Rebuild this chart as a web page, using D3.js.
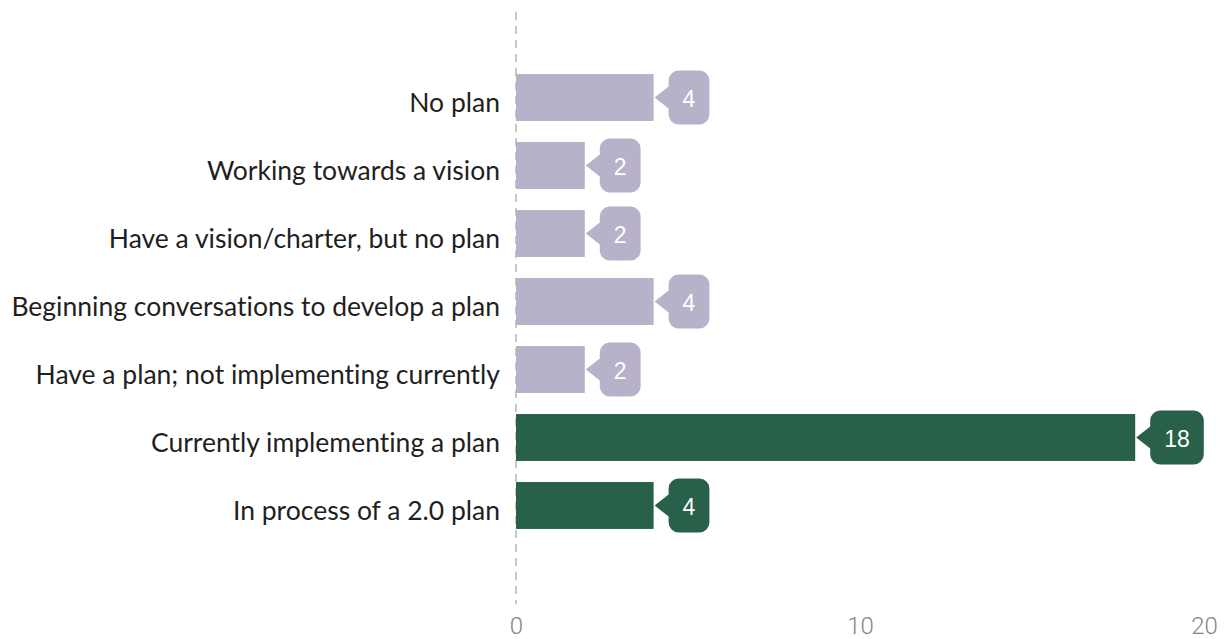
<!DOCTYPE html>
<html>
<head>
<meta charset="utf-8">
<script src="https://cdn.jsdelivr.net/npm/d3@7"></script>
<style>
  html, body { margin: 0; padding: 0; background: #fff; }
  svg { display: block; }
  text { font-variant-ligatures: none; }
</style>
</head>
<body>
<svg id="chart" width="1225" height="639"></svg>
<script>
// Stage of planning reached, and how many respondents reported each
const categories = [
  "No plan",
  "Working towards a vision",
  "Have a vision/charter, but no plan",
  "Beginning conversations to develop a plan",
  "Have a plan; not implementing currently",
  "Currently implementing a plan",
  "In process of a 2.0 plan"
];
const counts = [4, 2, 2, 4, 2, 18, 4];
// Groups: stages before implementation vs. implementing
const groups = ["pre", "pre", "pre", "pre", "pre", "impl", "impl"];
const tickValues = [0, 10, 20];

const colors = { pre: "#b7b2ca", impl: "#29604a" };

const svg = d3.select("#chart");

const x = d3.scaleLinear().domain([0, 20]).range([516, 1204]);
const y = d3.scaleBand()
  .domain(categories)
  .range([63.5, 539.5])
  .paddingInner(0.31)
  .paddingOuter(0.155);

// Dashed zero baseline
svg.append("line")
  .attr("x1", x(0)).attr("x2", x(0))
  .attr("y1", 12).attr("y2", 604)
  .attr("stroke", "#b5b5b5")
  .attr("stroke-width", 1.5)
  .attr("stroke-dasharray", "8,6");

// Bottom axis: tick labels only
const xAxis = d3.axisBottom(x).tickValues(tickValues).tickSize(0).tickPadding(0);
const gx = svg.append("g").attr("transform", "translate(0,634)").call(xAxis);
gx.select(".domain").remove();
gx.selectAll("text")
  .attr("font-family", "Roboto, 'Liberation Sans', sans-serif")
  .attr("font-weight", 300)
  .attr("font-size", 24)
  .attr("fill", "#858585")
  .attr("dy", 0);

const data = categories.map((c, i) => ({ cat: c, value: counts[i], group: groups[i] }));

// Category labels
svg.append("g").selectAll("text")
  .data(data).join("text")
  .attr("x", 500)
  .attr("y", d => y(d.cat) + y.bandwidth() / 2)
  .attr("dy", "0.53em")
  .attr("text-anchor", "end")
  .attr("font-family", "Lato, sans-serif")
  .attr("font-size", 26.5)
  .attr("fill", "#1f1f1f")
  .text(d => d.cat);

// Bars
svg.append("g").selectAll("rect")
  .data(data).join("rect")
  .attr("x", x(0))
  .attr("y", d => y(d.cat))
  .attr("width", d => x(d.value) - x(0))
  .attr("height", y.bandwidth())
  .attr("fill", d => colors[d.group]);

// Value callouts: rounded box with a pointer aimed at the bar end
const callouts = svg.append("g").selectAll("g")
  .data(data).join("g")
  .attr("transform", d => `translate(${x(d.value) + 1},${y(d.cat) + y.bandwidth() / 2})`);

callouts.append("text")
  .attr("font-family", "'Liberation Sans', Arial, sans-serif")
  .attr("font-size", 23)
  .attr("fill", "#ffffff")
  .attr("text-anchor", "middle")
  .attr("dy", "0.4em")
  .text(d => d.value);

callouts.each(function(d) {
  const g = d3.select(this);
  const tw = g.select("text").node().getComputedTextLength();
  const pw = 14, h = 54, r = 10, pad = 14;
  const w = tw + pad * 2;
  const hb = 11; // half of pointer base
  const p = d3.path();
  p.moveTo(0, 0);
  p.lineTo(pw, -hb);
  p.lineTo(pw, -h / 2 + r);
  p.arcTo(pw, -h / 2, pw + r, -h / 2, r);
  p.lineTo(pw + w - r, -h / 2);
  p.arcTo(pw + w, -h / 2, pw + w, -h / 2 + r, r);
  p.lineTo(pw + w, h / 2 - r);
  p.arcTo(pw + w, h / 2, pw + w - r, h / 2, r);
  p.lineTo(pw + r, h / 2);
  p.arcTo(pw, h / 2, pw, h / 2 - r, r);
  p.lineTo(pw, hb);
  p.closePath();
  g.insert("path", "text")
    .attr("d", p.toString())
    .attr("fill", colors[d.group]);
  g.select("text").attr("x", pw + w / 2);
});
</script>
</body>
</html>
